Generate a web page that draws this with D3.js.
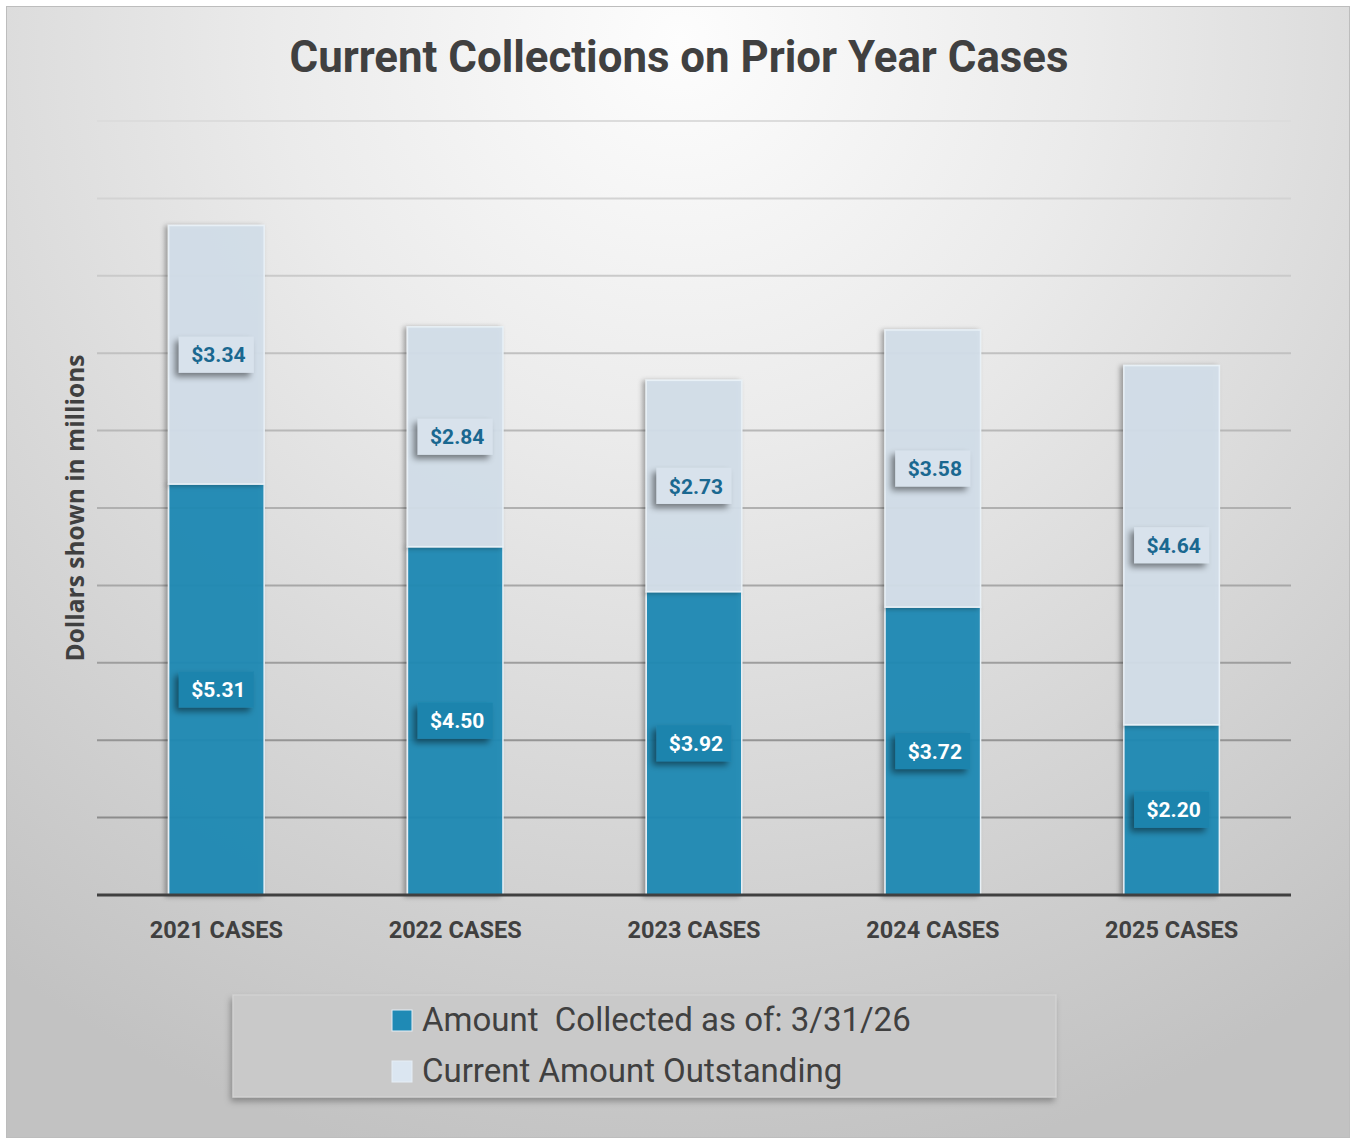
<!DOCTYPE html>
<html>
<head>
<meta charset="utf-8">
<script src="https://cdn.jsdelivr.net/npm/d3@7"></script>
<style>
html,body{margin:0;padding:0;background:#fff;}
svg{display:block;}
</style>
</head>
<body>
<svg id="chart" width="1351" height="1140"></svg>
<script>
const categories = ["2021 CASES","2022 CASES","2023 CASES","2024 CASES","2025 CASES"];
const collected = [5.31, 4.50, 3.92, 3.72, 2.20];
const outstanding = [3.34, 2.84, 2.73, 3.58, 4.64];
const seriesNames = ["Amount  Collected as of: 3/31/26", "Current Amount Outstanding"];
const yTicks = [0,1,2,3,4,5,6,7,8,9,10];
const title = "Current Collections on Prior Year Cases";
const yLabel = "Dollars shown in millions";

const colCollected = "#1f8ab5";
const colOutstanding = "#d3dfea";

const svg = d3.select("#chart");
const defs = svg.append("defs");

const rg = defs.append("radialGradient").attr("id","bg")
  .attr("gradientUnits","userSpaceOnUse")
  .attr("cx",680).attr("cy",40).attr("r",1150);
rg.append("stop").attr("offset","0").attr("stop-color","#fdfdfd");
rg.append("stop").attr("offset","0.35").attr("stop-color","#ebebeb");
rg.append("stop").attr("offset","1").attr("stop-color","#c2c2c2");

const sh = defs.append("filter").attr("id","shadow").attr("x","-30%").attr("y","-30%").attr("width","160%").attr("height","160%");
sh.append("feDropShadow").attr("dx",-4).attr("dy",4).attr("stdDeviation",3).attr("flood-color","#000").attr("flood-opacity",0.45);
const sh2 = defs.append("filter").attr("id","barshadow").attr("x","-20%").attr("y","-5%").attr("width","140%").attr("height","110%");
sh2.append("feDropShadow").attr("dx",-3).attr("dy",1).attr("stdDeviation",2.5).attr("flood-color","#000").attr("flood-opacity",0.35);
const sh3 = defs.append("filter").attr("id","legshadow").attr("x","-10%").attr("y","-20%").attr("width","120%").attr("height","150%");
sh3.append("feDropShadow").attr("dx",-2).attr("dy",4).attr("stdDeviation",3).attr("flood-color","#000").attr("flood-opacity",0.3);

// background
svg.append("rect").attr("x",6.5).attr("y",6.5).attr("width",1343).attr("height",1131)
  .attr("fill","url(#bg)").attr("stroke","#bdbdbd").attr("stroke-width",1);

const x0 = 97, x1 = 1291, yBase = 895, yTop = 121;
const x = d3.scaleBand().domain(categories).range([x0,x1]).paddingInner(0.6).paddingOuter(0.3);
const y = d3.scaleLinear().domain([0,10]).range([yBase,yTop]);

// title
svg.append("text").attr("x",679).attr("y",72).attr("text-anchor","middle")
  .attr("font-family","Roboto, 'Liberation Sans', sans-serif").attr("font-weight","bold")
  .attr("font-size",43.8).attr("fill","#404040").text(title);

// gridlines
const gridColor = d3.scaleLinear().domain([10,1]).range(["#dcdcdc","#8c8c8c"]);
svg.append("g").selectAll("line").data(yTicks.filter(d=>d>0)).join("line")
  .attr("x1",x0).attr("x2",x1).attr("y1",d=>y(d)).attr("y2",d=>y(d))
  .attr("stroke",d=>gridColor(d)).attr("stroke-width",2);

// stacked data
const rows = categories.map((c,i)=>({cat:c, collected:collected[i], outstanding:outstanding[i]}));
const stack = d3.stack().keys(["collected","outstanding"])(rows);
const colors = {collected:colCollected, outstanding:colOutstanding};

const gBars = svg.append("g");
stack.forEach(layer=>{
  gBars.append("g").selectAll("rect").data(layer).join("rect")
    .attr("x",d=>x(d.data.cat)).attr("width",x.bandwidth())
    .attr("y",d=>y(d[1])).attr("height",d=>y(d[0])-y(d[1]))
    .attr("fill",colors[layer.key]).attr("fill-opacity",0.93)
    .attr("stroke","#e8f0f6").attr("stroke-width",1.5)
    .attr("filter","url(#barshadow)");
});

// axis baseline
const xAxis = d3.axisBottom(x).tickSize(0).tickPadding(31);
const gx = svg.append("g").attr("transform",`translate(0,${yBase})`).call(xAxis);
gx.select(".domain").attr("stroke","#404040").attr("stroke-width",3).attr("d",`M${x0},0H${x1}`);
gx.selectAll("text").attr("font-family","Roboto, 'Liberation Sans', sans-serif").attr("font-weight","bold")
  .attr("font-size",23.5).attr("fill","#404040").attr("dy","0.5em");

// labels
const labelW = 75, labelH = 36;
stack.forEach(layer=>{
  const isC = layer.key==="collected";
  const g = svg.append("g").selectAll("g").data(layer).join("g")
    .attr("transform",d=>`translate(${x(d.data.cat)+x.bandwidth()/2},${y((d[0]+d[1])/2)})`);
  g.append("rect").attr("x",-labelW/2).attr("y",-labelH/2).attr("width",labelW).attr("height",labelH)
    .attr("fill",isC?"#1e84ad":"#d8e2ec").attr("filter","url(#shadow)");
  g.append("text").attr("x",2).attr("text-anchor","middle").attr("dy","0.36em")
    .attr("font-family","Roboto, 'Liberation Sans', sans-serif").attr("font-weight","bold")
    .attr("font-size",21).attr("fill",isC?"#ffffff":"#1a6890")
    .text(d=>"$"+(d[1]-d[0]).toFixed(2));
});

// y label
svg.append("text").attr("transform","translate(84,508) rotate(-90)").attr("text-anchor","middle")
  .attr("font-family","'Open Sans', 'DejaVu Sans', sans-serif").attr("font-weight","bold")
  .attr("font-size",24.5).attr("fill","#404040").text(yLabel);

// legend
const leg = svg.append("g");
leg.append("rect").attr("x",233).attr("y",995).attr("width",823).attr("height",102)
  .attr("fill","#c9c9c9").attr("stroke","#d6d6d6").attr("stroke-width",1).attr("filter","url(#legshadow)");
const legItems = leg.selectAll("g.li").data(seriesNames).join("g").attr("class","li")
  .attr("transform",(d,i)=>`translate(392,${1010+i*51})`);
legItems.append("rect").attr("x",0).attr("y",0).attr("width",20).attr("height",21)
  .attr("fill",(d,i)=>i===0?colCollected:"#dbe6f1").attr("stroke","#e6eef5").attr("stroke-width",1);
legItems.append("text").attr("x",30).attr("y",21)
  .attr("font-family","Roboto, 'Liberation Sans', sans-serif")
  .attr("font-size",33).attr("fill","#404040").style("white-space","pre").attr("xml:space","preserve").text(d=>d);
</script>
</body>
</html>
